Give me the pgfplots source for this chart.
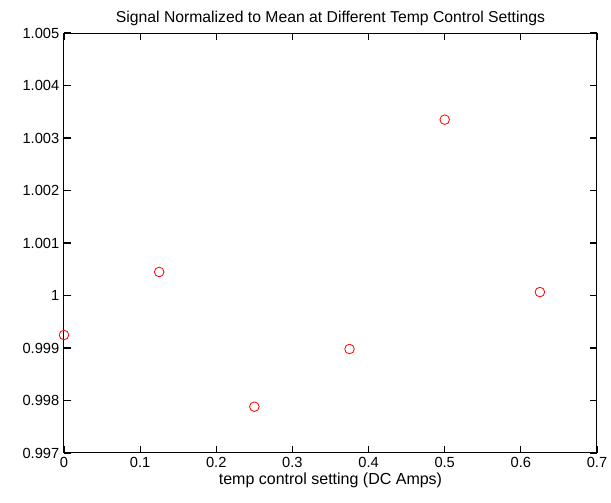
\documentclass[border=0pt]{standalone}
\usepackage{pgfplots}
\pgfplotsset{compat=1.18}
\usepackage{fontspec}
\setmainfont{Liberation Sans}
\begin{document}
\begin{tikzpicture}
\begin{axis}[
  at={(0,0)}, anchor=south west,
  scale only axis, width=399.75pt, height=315pt,
  xmin=0, xmax=0.7, ymin=0.997, ymax=1.005,
  xtick={0,0.1,0.2,0.3,0.4,0.5,0.6,0.7},
  ytick={0.997,0.998,0.999,1,1.001,1.002,1.003,1.004,1.005},
  /pgf/number format/precision=3,
  /pgf/number format/assume math mode=true,
  xticklabel={\pgfmathprintnumber{\tick}},
  yticklabel={\pgfmathprintnumber{\tick}},
  xtick pos=both, ytick pos=both,
  tick align=inside, major tick length=5.5pt,
  tick style={draw=black, line width=0.9pt},
  axis line style={black, line width=0.75pt},
  tick label style={font=\fontsize{11}{13}\selectfont},
  title={Signal Normalized to Mean at Different Temp Control Settings},
  title style={font=\fontsize{11.8}{13}\selectfont, yshift=-4pt},
  xlabel={temp control setting (DC Amps)},
  xlabel style={font=\fontsize{12}{14}\selectfont, yshift=3pt},
]
\addplot[only marks, mark=o, mark size=3.6pt, color=red, mark options={line width=0.6pt}]
coordinates {
(0,0.999248)
(0.125,1.000448)
(0.25,0.997882)
(0.375,0.998981)
(0.5,1.003349)
(0.625,1.000065)
};
\end{axis}
\pgfresetboundingbox
\path[use as bounding box] (-48pt,-37.5pt) rectangle (410.25pt,339.75pt);
\end{tikzpicture}
\end{document}
